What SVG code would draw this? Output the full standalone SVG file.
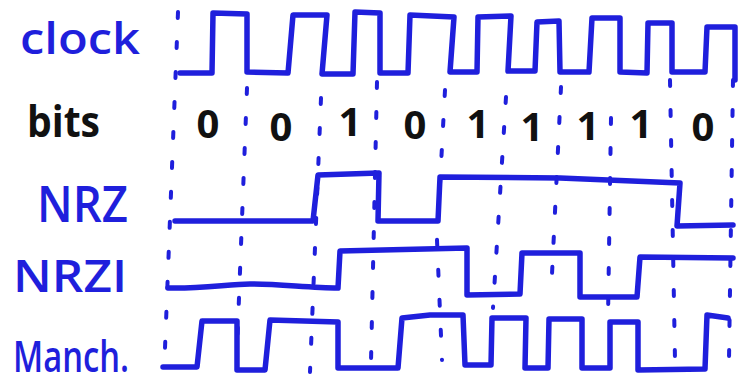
<svg xmlns="http://www.w3.org/2000/svg" width="746" height="385" viewBox="0 0 746 385">
<style>
.sig{fill:none;stroke:#1f1fdc;stroke-width:5.5;stroke-linejoin:round;stroke-linecap:round}
.dot{fill:none;stroke:#1f1fdc;stroke-width:4;stroke-linecap:round;stroke-dasharray:6 24}
.lbl{font-family:"Open Sans","Noto Sans",sans-serif;fill:#1f1fdc;font-weight:600}
.blk{font-family:"Open Sans","Noto Sans",sans-serif;fill:#111;font-weight:bold}
.dig{font-family:"Open Sans","Noto Sans",sans-serif;fill:#111;font-weight:bold;font-size:40px;text-anchor:middle}
</style>
<rect width="746" height="385" fill="#fff"/>
<g id="gridlines">
<path class="dot" d="M178,12 L165,348"/>
<path class="dot" d="M247,88 L237,350"/>
<path class="dot" d="M321,98 L310,372"/>
<path class="dot" d="M377,82 L371,362"/>
<path class="dot" d="M445,90 L437,240 L442,360"/>
<path class="dot" d="M506,97 L493,308"/>
<path class="dot" d="M561,87 L551,295"/>
<path class="dot" d="M611,118 L608,318"/>
<path class="dot" d="M670,80 L675,360"/>
<path class="dot" d="M733,80 L729,360"/>
</g>
<g id="labels">
<text id="lbl-clock" class="lbl" x="20" y="54" font-size="44" textLength="120" lengthAdjust="spacingAndGlyphs">clock</text>
<text id="lbl-bits" class="blk" x="27" y="137" font-size="43" textLength="73" lengthAdjust="spacingAndGlyphs">bits</text>
<text id="lbl-nrz" class="lbl" x="37" y="222" font-size="50" textLength="91" lengthAdjust="spacingAndGlyphs">NRZ</text>
<text id="lbl-nrzi" class="lbl" x="13" y="292" font-size="45" textLength="114" lengthAdjust="spacingAndGlyphs">NRZI</text>
<text id="lbl-manch" class="lbl" x="13" y="372" font-size="44" textLength="116" lengthAdjust="spacingAndGlyphs">Manch.</text>
</g>
<g id="bits">
<text class="dig" x="208" y="138">0</text>
<text class="dig" x="281" y="141">0</text>
<text class="dig" x="350" y="136">1</text>
<text class="dig" x="415" y="139">0</text>
<text class="dig" x="478" y="138">1</text>
<text class="dig" x="532" y="141">1</text>
<text class="dig" x="588" y="140">1</text>
<text class="dig" x="641" y="138">1</text>
<text class="dig" x="703" y="141">0</text>
</g>
<g id="clock">
<path class="sig" d="M180,73 L212,73 L213,13 L247,14 L247,72 L288,73 L293,15 L327,15 L322,74 L353,74 L355,12 L380,13 L380,73 L408,73 L410,15 L454,17 L450,72 L477,72 L478,17 L511,16 L508,71 L535,71 L537,22 L559,21 L560,72 L589,72 L592,18 L620,18 L620,72 L647,73 L648,23 L672,23 L672,72 L705,72 L707,27 L735,27 L735,80"/>
</g>
<g id="nrz">
<path class="sig" d="M175,221 L313,221 L318,175 L379,173 L378,221 L438,221 L440,177 L560,178 L680,183 L677,226 L733,225"/>
</g>
<g id="nrzi">
<path class="sig" d="M168,288 C200,289 230,284 250,284 C280,284 310,288 338,288 L340,251 L467,248 L467,295 L520,294 L522,253 L580,253 L580,297 L637,297 L640,257 L733,258"/>
</g>
<g id="manchester">
<path class="sig" d="M163,367 L197,367 L202,321 L237,321 L237,370 L265,370 L270,320 L338,322 L338,368 L398,368 L402,318 L430,315 L463,315 L465,365 L491,365 L492,318 L526,318 L525,368 L548,368 L549,319 L582,319 L582,368 L610,368 L610,322 L638,322 L638,370 L705,369 L707,315 L728,318"/>
</g>
</svg>
